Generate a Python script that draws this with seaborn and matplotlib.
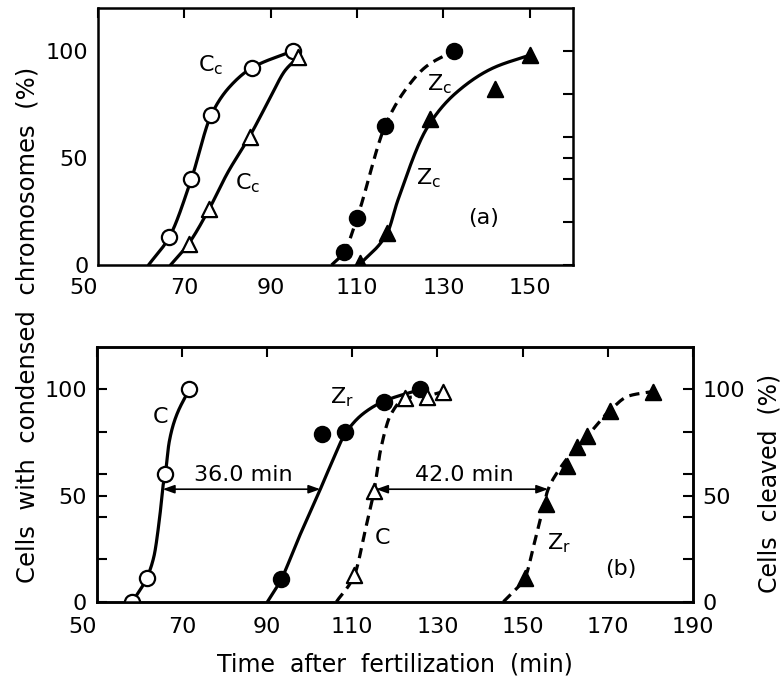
import numpy as np
import matplotlib
matplotlib.use("Agg")
import matplotlib.pyplot as plt
import seaborn as sns

# ---------------- data ----------------
# Panel (a): condensed chromosomes
cc_open_x = [66.5, 71.6, 76.2, 85.6, 95.2]
cc_open_y = [13, 40, 70, 92, 100]
cc_tri_x = [71.0, 75.7, 85.1, 96.4]
cc_tri_y = [10, 26, 60, 97]
zc_dot_x = [107.0, 110.0, 116.5, 132.5]
zc_dot_y = [6, 22, 65, 100]
zc_ftri_x = [110.6, 117.0, 127.0, 142.0, 150.0]
zc_ftri_y = [1, 15, 68, 82, 98]

# hand-drawn fitted curves of panel (a) (knots along the drawn lines)
fit_cc_open_x = [61.7, 66.5, 71.6, 76.2, 80.4, 85.6, 95.2]
fit_cc_open_y = [0, 13, 40, 70, 83, 92, 100]
fit_cc_tri_x = [66.8, 71.0, 75.7, 80.0, 85.1, 89.6, 93.4, 96.4]
fit_cc_tri_y = [0, 10, 26, 43, 60, 77, 91, 97]
fit_zc_dot_x = [104.1, 107.0, 110.0, 116.5, 120.9, 126.2, 132.5]
fit_zc_dot_y = [0, 6, 22, 65, 81, 93, 100]
fit_zc_ftri_x = [110.5, 117.0, 119.4, 126.2, 132.7, 141.5, 150.0]
fit_zc_ftri_y = [0, 15, 30, 64, 80, 92, 98]

# Panel (b): condensed chromosomes (left axis) and cleavage (right axis)
c_open_x = [58.4, 61.7, 66.1, 71.7]
c_open_y = [0, 11, 60, 100]
zr_dot_x = [93.3, 103.0, 108.3, 117.5, 126.0]
zr_dot_y = [10.5, 79, 80, 94, 100]
c_cleave_x = [110.5, 115.1, 122.5, 127.5, 131.4]
c_cleave_y = [12.5, 52, 96, 96.5, 99]
zr_cleave_x = [150.5, 155.4, 160.4, 162.7, 165.2, 170.4, 180.5]
zr_cleave_y = [11, 46, 64, 73, 78, 90, 99]

fit_c_open_x = [58.4, 61.7, 63.4, 64.8, 65.6, 66.1, 67.0, 68.4, 71.7]
fit_c_open_y = [0, 11, 21, 40, 55, 60, 75, 86, 100]
fit_zr_dot_x = [90.1, 93.3, 97.2, 102.5, 105.5, 108.3, 112.5, 117.5, 126.0]
fit_zr_dot_y = [0, 10.5, 29, 53, 67, 79, 88.5, 94.5, 100]
fit_c_cleave_x = [106.3, 110.5, 113.2, 115.1, 116.7, 119.0, 122.5, 127.5, 131.4]
fit_c_cleave_y = [0, 12.5, 35, 52, 72, 88, 96, 97, 99]
fit_zr_cleave_x = [145.5, 148.0, 150.5, 152.8, 154.3, 156.0, 158.5, 162.7, 166.0, 170.4, 175.0, 180.5]
fit_zr_cleave_y = [0, 5, 11, 28, 40, 53, 62, 73, 80, 90, 97, 99]

# interval arrows (start, end, level, label)
arrow_36 = (65.5, 102.5, 53, "36.0 min")
arrow_42 = (115.6, 156.0, 53, "42.0 min")

x_ticks_a = [50, 70, 90, 110, 130, 150]
x_ticks_b = [50, 70, 90, 110, 130, 150, 170, 190]
y_ticks = [0, 50, 100]
y_minor = [20, 40, 60, 80]


def smooth(xk, yk, n=300):
    """Monotone cubic (PCHIP) through the knots of a hand-drawn curve."""
    xk = np.asarray(xk, float)
    yk = np.asarray(yk, float)
    h = np.diff(xk)
    d = np.diff(yk) / h
    m = np.zeros_like(xk)
    for i in range(1, len(xk) - 1):
        if d[i - 1] * d[i] > 0:
            w1 = 2 * h[i] + h[i - 1]
            w2 = h[i] + 2 * h[i - 1]
            m[i] = (w1 + w2) / (w1 / d[i - 1] + w2 / d[i])
    m[0] = d[0]
    m[-1] = d[-1]
    xs = np.linspace(xk[0], xk[-1], n)
    idx = np.clip(np.searchsorted(xk, xs) - 1, 0, len(h) - 1)
    t = (xs - xk[idx]) / h[idx]
    h00 = 2 * t**3 - 3 * t**2 + 1
    h10 = t**3 - 2 * t**2 + t
    h01 = -2 * t**3 + 3 * t**2
    h11 = t**3 - t**2
    ys = h00 * yk[idx] + h10 * h[idx] * m[idx] + h01 * yk[idx + 1] + h11 * h[idx] * m[idx + 1]
    return xs, ys


sns.set_theme(style="white")
plt.rcParams["font.family"] = ["DejaVu Sans"]
plt.rcParams["mathtext.fontset"] = "dejavusans"
plt.rcParams["text.color"] = "black"
plt.rcParams["axes.labelcolor"] = "black"
plt.rcParams["xtick.color"] = "black"
plt.rcParams["ytick.color"] = "black"

FS = 16
LW = 2.3
DASH = (0, (3.2, 2.0))
MS = 120

fig = plt.figure(figsize=(7.82, 6.84), dpi=100)
W, H = 782.0, 684.0
ax_a = fig.add_axes([98 / W, 1 - 265 / H, (573 - 98) / W, (265 - 8) / H])
ax_b = fig.add_axes([96.7 / W, 1 - 601.7 / H, (693 - 96.7) / W, (601.7 - 347) / H])
ax_b2 = ax_b.twinx()


def curve(ax, xk, yk, dashed=False):
    xs, ys = smooth(xk, yk)
    sns.lineplot(x=xs, y=ys, ax=ax, color="black", lw=LW,
                 linestyle=DASH if dashed else "-", sort=False, zorder=2)


def points(ax, x, y, marker, filled):
    sns.scatterplot(x=x, y=y, ax=ax, marker=marker, s=MS,
                    facecolor="black" if filled else "white",
                    edgecolor="black", linewidth=1.6, zorder=3)


# ---- panel (a)
curve(ax_a, fit_cc_open_x, fit_cc_open_y)
curve(ax_a, fit_cc_tri_x, fit_cc_tri_y)
curve(ax_a, fit_zc_dot_x, fit_zc_dot_y, dashed=True)
curve(ax_a, fit_zc_ftri_x, fit_zc_ftri_y)
points(ax_a, cc_open_x, cc_open_y, "o", False)
points(ax_a, cc_tri_x, cc_tri_y, "^", False)
points(ax_a, zc_dot_x, zc_dot_y, "o", True)
points(ax_a, zc_ftri_x, zc_ftri_y, "^", True)

TXT = dict(fontsize=FS, ha="center", va="center", color="black")
ax_a.text(76.2, 93.5, r"C$_{\rm c}$", **TXT)
ax_a.text(84.6, 38, r"C$_{\rm c}$", **TXT)
ax_a.text(129.1, 84.5, r"Z$_{\rm c}$", **TXT)
ax_a.text(126.6, 40.5, r"Z$_{\rm c}$", **TXT)
ax_a.text(139.2, 22, "(a)", **TXT)

# ---- panel (b)
curve(ax_b, fit_c_open_x, fit_c_open_y)
curve(ax_b, fit_zr_dot_x, fit_zr_dot_y)
curve(ax_b2, fit_c_cleave_x, fit_c_cleave_y, dashed=True)
curve(ax_b2, fit_zr_cleave_x, fit_zr_cleave_y, dashed=True)
points(ax_b, c_open_x, c_open_y, "o", False)
points(ax_b, zr_dot_x, zr_dot_y, "o", True)
points(ax_b2, c_cleave_x, c_cleave_y, "^", False)
points(ax_b2, zr_cleave_x, zr_cleave_y, "^", True)

for (x0, x1, yv, lab) in (arrow_36, arrow_42):
    ax_b2.annotate("", xy=(x0, yv), xytext=(x1, yv),
                   arrowprops=dict(arrowstyle="<|-|>,head_length=0.7,head_width=0.25",
                                   color="black", lw=1.2, shrinkA=0, shrinkB=0,
                                   mutation_scale=10))
    ax_b2.text((x0 + x1) / 2 + 0.5, yv + 2.0, lab, fontsize=FS, ha="center",
               va="bottom", color="black")

ax_b.text(65.0, 87, "C", **TXT)
ax_b.text(107.6, 96.5, r"Z$_{\rm r}$", **TXT)
ax_b.text(117.1, 30, "C", **TXT)
ax_b.text(158.6, 27.5, r"Z$_{\rm r}$", **TXT)
ax_b.text(173.1, 15.5, "(b)", **TXT)

# ---- axes styling
for ax, xt, xl in ((ax_a, x_ticks_a, (50, 160)), (ax_b, x_ticks_b, (50, 190))):
    ax.set_xlim(*xl)
    ax.set_ylim(0, 120)
    ax.set_xticks(xt)
    ax.set_xticklabels([str(v) for v in xt])
    ax.set_yticks(y_ticks)
    ax.set_yticklabels([str(v) for v in y_ticks])
    ax.set_yticks(y_minor, minor=True)
    ax.set_xlabel("")
    ax.set_ylabel("")
    for sp in ax.spines.values():
        sp.set_linewidth(1.8)
        sp.set_color("black")
    ax.tick_params(axis="both", which="both", direction="in", top=True, right=True,
                   length=7, width=1.5, color="black", labelsize=FS, labelcolor="black")
    ax.tick_params(axis="y", which="major", pad=7)
    ax.xaxis.get_majorticklabels()[0].set_horizontalalignment("right")

ax_a.tick_params(axis="x", pad=9)
ax_b.tick_params(axis="x", pad=11)

ax_b2.set_ylim(0, 120)
ax_b2.set_yticks(y_ticks)
ax_b2.set_yticklabels([str(v) for v in y_ticks])
ax_b2.set_yticks(y_minor, minor=True)
ax_b2.set_ylabel("")
ax_b2.tick_params(axis="y", which="both", direction="in", length=7, width=1.5,
                  labelsize=FS, pad=7, color="black", labelcolor="black")
for sp in ax_b2.spines.values():
    sp.set_linewidth(1.8)
    sp.set_color("black")
ax_b.tick_params(axis="y", which="both", right=False)

ax_b.set_xlabel("Time  after  fertilization  (min)", fontsize=17, labelpad=11,
                color="black")

fig.text(27.5 / W, 1 - 325 / H, "Cells  with  condensed  chromosomes  (%)",
         rotation=90, ha="center", va="center", fontsize=17.5, color="black")
fig.text(769 / W, 1 - 483 / H, "Cells  cleaved  (%)",
         rotation=90, ha="center", va="center", fontsize=17, color="black")

fig.savefig("out.png", dpi=100)
